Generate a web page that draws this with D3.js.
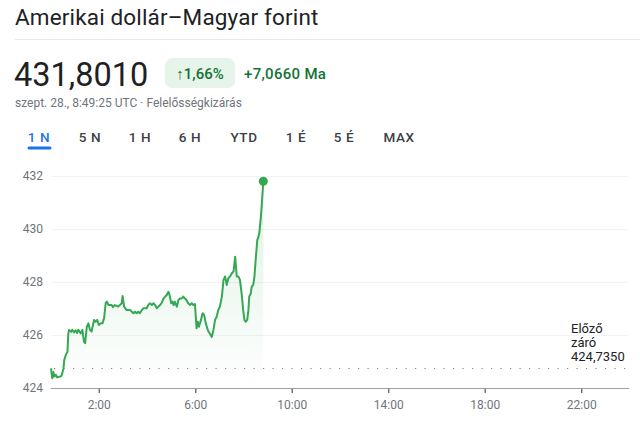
<!DOCTYPE html>
<html>
<head>
<meta charset="utf-8">
<script src="https://cdn.jsdelivr.net/npm/d3@7"></script>
<style>
  body { margin: 0; background: #fff; }
  svg { display: block; font-family: Roboto, Arial, sans-serif; }
</style>
</head>
<body>
<svg id="chart" width="640" height="421"></svg>
<script>
// minutes since 0:00 UTC and HUF price
const minutes = [0, 3, 6, 8, 12, 15, 20, 25, 27, 31, 33, 37, 41, 43, 45, 50, 53, 57, 61, 65, 68, 74, 78, 82, 85, 89, 93, 97, 101, 107, 111, 115, 119, 124, 128, 132, 136, 139, 143, 151, 154, 159, 167, 176, 178, 182, 188, 197, 201, 205, 209, 213, 217, 221, 226, 230, 238, 242, 246, 251, 255, 259, 263, 267, 271, 275, 280, 284, 288, 292, 294, 299, 302, 305, 308, 313, 317, 321, 325, 329, 333, 337, 341, 346, 350, 354, 358, 362, 365, 368, 373, 377, 381, 385, 390, 393, 397, 400, 404, 408, 412, 416, 420, 425, 429, 433, 437, 441, 445, 450, 454, 458, 462, 466, 470, 474, 478, 481, 484, 488, 491, 493, 497, 499, 503, 506, 509, 513, 516, 518, 522, 525, 528];
const prices = [424.74, 424.37, 424.60, 424.43, 424.50, 424.40, 424.42, 424.44, 424.50, 424.74, 425.06, 425.25, 425.37, 426.06, 426.19, 426.12, 426.20, 426.10, 426.18, 426.08, 426.20, 426.06, 426.19, 425.75, 425.69, 426.31, 426.44, 426.19, 426.13, 426.57, 426.50, 426.57, 426.38, 426.44, 426.44, 426.63, 427.20, 427.26, 427.13, 427.13, 427.05, 427.13, 427.07, 427.20, 427.47, 427.07, 426.94, 426.94, 426.88, 426.82, 426.88, 426.82, 426.88, 426.82, 426.94, 427.01, 427.01, 427.13, 427.20, 427.13, 427.20, 427.13, 427.01, 427.07, 427.13, 427.20, 427.38, 427.45, 427.51, 427.63, 427.57, 427.20, 427.26, 427.13, 427.26, 427.07, 427.32, 427.38, 427.38, 427.45, 427.38, 427.32, 427.20, 427.13, 427.20, 427.13, 427.17, 426.25, 426.50, 426.31, 426.57, 426.82, 426.75, 426.44, 426.19, 426.10, 426.00, 425.93, 426.19, 426.57, 426.69, 426.94, 427.07, 427.45, 428.08, 428.21, 427.89, 428.14, 428.21, 428.33, 428.40, 428.95, 428.21, 428.21, 428.08, 427.58, 426.94, 426.57, 426.50, 426.57, 426.94, 427.45, 427.57, 427.82, 427.89, 428.21, 428.83, 429.58, 429.71, 429.84, 430.46, 431.09, 431.80];
const prevClose = 424.735;
const yTicks = [424, 426, 428, 430, 432];
const xTicks = [120, 360, 600, 840, 1080, 1320];
const xTickLabels = ['2:00', '6:00', '10:00', '14:00', '18:00', '22:00'];
const tabs = ['1 N', '5 N', '1 H', '6 H', 'YTD', '1 É', '5 É', 'MAX'];
const tabCenters = [39, 90, 140, 190, 244, 296, 344, 399];

const green = '#34a853';
const svg = d3.select('#chart');

// header
svg.append('text').attr('x', 15).attr('y', 25)
  .attr('font-size', 22.5).attr('fill', '#202124').attr('letter-spacing', 0.15)
  .text('Amerikai dollár–Magyar forint');
svg.append('line').attr('x1', 15).attr('x2', 640).attr('y1', 39.5).attr('y2', 39.5)
  .attr('stroke', '#e8eaed');

svg.append('text').attr('x', 14).attr('y', 86)
  .attr('font-size', 32.5).attr('fill', '#202124')
  .text('431,8010');
svg.append('rect').attr('x', 165).attr('y', 58).attr('width', 70).attr('height', 30)
  .attr('rx', 7).attr('fill', '#e6f4ea');
svg.append('text').attr('x', 200).attr('y', 78.5).attr('text-anchor', 'middle')
  .attr('font-size', 15).attr('fill', '#137333').attr('font-weight', 500)
  .text('↑1,66%');
svg.append('text').attr('x', 244).attr('y', 78.5)
  .attr('font-size', 15).attr('fill', '#137333').attr('font-weight', 500)
  .attr('letter-spacing', 0.3)
  .text('+7,0660 Ma');
svg.append('text').attr('x', 15).attr('y', 107)
  .attr('font-size', 12).attr('fill', '#70757a')
  .text('szept. 28., 8:49:25 UTC · Felelősségkizárás');

svg.append('g').selectAll('text').data(tabs).enter().append('text')
  .attr('x', (d, i) => tabCenters[i]).attr('y', 142)
  .attr('text-anchor', 'middle').attr('font-size', 13.5).attr('font-weight', 500)
  .attr('letter-spacing', 0.6)
  .attr('fill', (d, i) => i === 0 ? '#1a73e8' : '#3c4043')
  .text(d => d);
svg.append('line').attr('x1', 29).attr('x2', 50).attr('y1', 148).attr('y2', 148)
  .attr('stroke', '#1a73e8').attr('stroke-width', 3).attr('stroke-linecap', 'round');

// chart
const x = d3.scaleLinear().domain([0, 1440]).range([51, 630]);
const y = d3.scaleLinear().domain([424, 432]).range([388, 176]);

const grid = svg.append('g');
grid.selectAll('line').data(yTicks.slice(1)).enter().append('line')
  .attr('x1', 51).attr('x2', 628)
  .attr('y1', d => y(d) + 0.5).attr('y2', d => y(d) + 0.5)
  .attr('stroke', '#f1f3f4');

svg.append('g').selectAll('text').data(yTicks).enter().append('text')
  .attr('x', 43).attr('y', d => y(d)).attr('dy', '0.35em')
  .attr('text-anchor', 'end').attr('font-size', 12).attr('fill', '#70757a')
  .text(d => d);

const defs = svg.append('defs');
const grad = defs.append('linearGradient').attr('id', 'fade')
  .attr('x1', 0).attr('x2', 0).attr('y1', 0).attr('y2', 1);
grad.append('stop').attr('offset', '0%').attr('stop-color', green).attr('stop-opacity', 0.16);
grad.append('stop').attr('offset', '100%').attr('stop-color', green).attr('stop-opacity', 0.0);

const pts = minutes.map((m, i) => [m, prices[i]]);

svg.append('path').datum(pts)
  .attr('fill', 'url(#fade)')
  .attr('d', d3.area().x(d => x(d[0])).y0(y(424)).y1(d => y(d[1])));

// previous close dotted line
svg.append('line').attr('x1', 54).attr('x2', 628)
  .attr('y1', y(prevClose)).attr('y2', y(prevClose))
  .attr('stroke', '#80868b').attr('stroke-width', 1.2)
  .attr('stroke-dasharray', '1.2,8.3');

svg.append('path').datum(pts)
  .attr('fill', 'none').attr('stroke', green).attr('stroke-width', 2)
  .attr('stroke-linejoin', 'round')
  .attr('d', d3.line().x(d => x(d[0])).y(d => y(d[1])));

const last = pts[pts.length - 1];
svg.append('circle').attr('cx', x(last[0])).attr('cy', y(last[1])).attr('r', 4.5)
  .attr('fill', green);

// x axis
svg.append('line').attr('x1', 51).attr('x2', 629).attr('y1', 388.5).attr('y2', 388.5)
  .attr('stroke', '#9aa0a6');
const xt = svg.append('g').selectAll('g').data(xTicks).enter().append('g')
  .attr('transform', d => `translate(${x(d)},0)`);
xt.append('line').attr('y1', 389).attr('y2', 393).attr('stroke', '#70757a').attr('stroke-width', 1.5);
xt.append('text').attr('y', 409).attr('text-anchor', 'middle')
  .attr('font-size', 12).attr('fill', '#70757a')
  .text((d, i) => xTickLabels[i]);

// previous close label
const lbl = svg.append('text').attr('x', 571).attr('font-size', 13).attr('fill', '#202124');
['Előző', 'záró', '424,7350'].forEach((s, i) => {
  lbl.append('tspan').attr('x', 571).attr('y', 333 + i * 14).text(s);
});
</script>
</body>
</html>
